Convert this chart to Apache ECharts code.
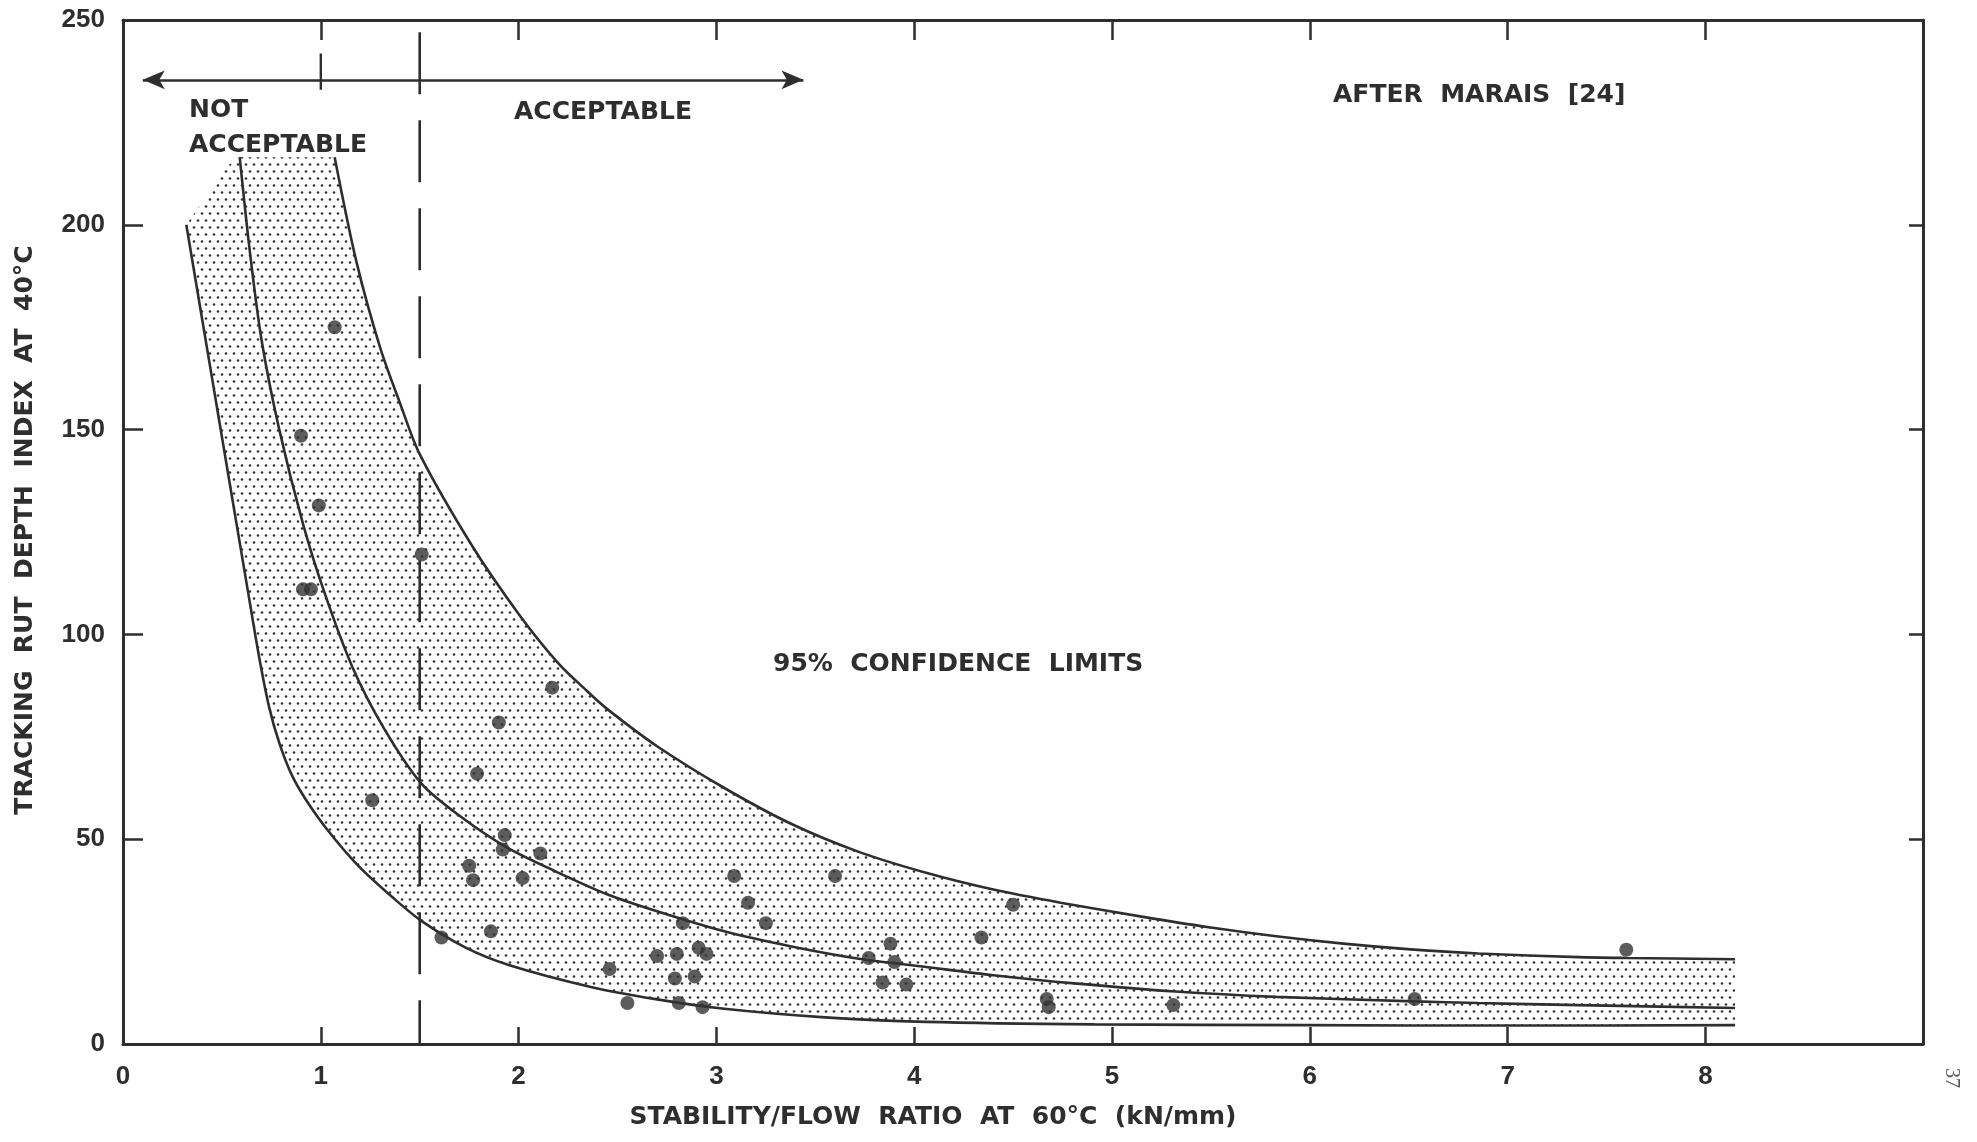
<!DOCTYPE html>
<html>
<head>
<meta charset="utf-8">
<title>Tracking rut depth index vs stability/flow ratio</title>
<script src="https://cdn.jsdelivr.net/npm/echarts@6/dist/echarts.min.js"></script>
<style>
  html, body { margin: 0; padding: 0; background: #ffffff; }
  #chart { width: 1977px; height: 1142px; }
</style>
</head>
<body>
<div id="chart"></div>
<script>
// Axis ticks and labels
const xTickValues = [1, 2, 3, 4, 5, 6, 7, 8];
const xLabelValues = [0, 1, 2, 3, 4, 5, 6, 7, 8];
const yTickValues = [50, 100, 150, 200];
const yLabelValues = [0, 50, 100, 150, 200, 250];

// Regression curve and its 95% confidence limits: [stability/flow, rut depth index]
const upperLimit = [
  [1.07, 216.5], [1.18, 191], [1.30, 170], [1.40, 156.5], [1.50, 144], [1.76, 122],
  [2.00, 105], [2.20, 93], [2.35, 86], [2.45, 81.7], [2.70, 72.7], [3.04, 62.5],
  [3.38, 53.7], [3.72, 46.9], [4.06, 41.8], [4.40, 37.7], [4.74, 34.5], [5.15, 31.1],
  [5.49, 28.5], [5.83, 26.3], [6.17, 24.5], [6.51, 23.1], [6.85, 22.1], [7.36, 21.2],
  [7.60, 21.0], [8.15, 20.7]
];
const meanCurve = [
  [0.59, 216.5], [0.64, 194], [0.70, 172], [0.79, 150], [0.91, 127], [1.02, 110],
  [1.16, 92], [1.32, 77], [1.51, 63.5], [1.71, 55.4], [1.94, 48], [2.18, 42.3],
  [2.45, 36.5], [2.70, 32.4], [3.04, 27.5], [3.38, 23.8], [3.72, 20.8], [4.06, 18.8],
  [4.40, 16.8], [4.81, 14.8], [5.32, 12.8], [5.83, 11.5], [6.53, 10.4], [6.85, 10.0],
  [7.36, 9.5], [8.15, 8.8]
];
const lowerLimit = [
  [0.32, 200], [0.40, 177], [0.48, 154], [0.56, 131], [0.63, 111], [0.69, 94],
  [0.74, 82], [0.79, 73.5], [0.85, 66], [0.92, 60], [1.03, 52.5], [1.19, 43.5],
  [1.37, 35.5], [1.51, 30], [1.73, 23.6], [1.95, 19.3], [2.36, 14], [2.70, 10.9],
  [3.04, 8.6], [3.55, 6.5], [4.06, 5.4], [4.91, 4.8], [6.00, 4.6], [7.00, 4.5],
  [8.15, 4.6]
];
// Closing edge of the shaded band above the steep ends of the curves
const bandTopEdge = [[0.59, 216.5], [0.53, 214.5]];

// Measured mixes
const observations = [
  [1.07, 175], [0.90, 148.5], [0.99, 131.5], [0.91, 111], [0.95, 111], [1.51, 119.5],
  [2.17, 87], [1.90, 78.5], [1.79, 66], [1.26, 59.5], [1.93, 51], [1.92, 47.5],
  [2.11, 46.5], [1.75, 43.5], [1.77, 40], [2.02, 40.5], [1.61, 26], [1.86, 27.5],
  [2.46, 18.3], [3.09, 41], [3.60, 41], [3.16, 34.5], [3.25, 29.5], [4.50, 34],
  [4.34, 26], [2.83, 29.5], [2.70, 21.5], [2.80, 22], [2.91, 23.5], [2.95, 22],
  [2.79, 16], [2.89, 16.5], [2.55, 10], [2.81, 10], [2.93, 9], [3.77, 21],
  [3.88, 24.5], [3.90, 20], [3.84, 15], [3.96, 14.5], [4.67, 11], [4.68, 9],
  [5.31, 9.5], [6.53, 11], [7.60, 23]
];

// Acceptance criterion and region arrow
const criterionX = 1.5;
const criterionLine = [[criterionX, 247], [criterionX, 0]];
const unitOneMark = [[1, 241.8], [1, 233]];
const regionArrow = [[0.10, 235.4], [3.44, 235.4]];

const INK = '#2e2e2e';
const LABEL_FONT = "'Liberation Sans', Arial, sans-serif";
const NOTE_FONT = "'DejaVu Sans', Verdana, sans-serif";

// Stipple used for the confidence band
const tile = document.createElement('canvas');
tile.width = 8;
tile.height = 14;
const tg = tile.getContext('2d');
tg.fillStyle = '#333333';
tg.beginPath(); tg.arc(2, 3.5, 1.3, 0, Math.PI * 2); tg.fill();
tg.beginPath(); tg.arc(6, 10.5, 1.3, 0, Math.PI * 2); tg.fill();
const stipple = { image: tile, repeat: 'repeat' };

function renderBand(params, api) {
  const pts = [];
  lowerLimit.forEach(p => pts.push(api.coord(p)));
  for (let i = upperLimit.length - 1; i >= 0; i--) pts.push(api.coord(upperLimit[i]));
  bandTopEdge.forEach(p => pts.push(api.coord(p)));
  return {
    type: 'polygon',
    shape: { points: pts },
    style: { fill: stipple, stroke: null }
  };
}

const chart = echarts.init(document.getElementById('chart'), null, { renderer: 'canvas' });

const frameLine = { show: true, onZero: false, lineStyle: { color: INK, width: 3 } };
const tickStyle = { color: INK, width: 2.5 };
const curveStyle = { color: INK, width: 2.6 };

function note(text, x, y) {
  return {
    type: 'text',
    x: x,
    y: y,
    silent: true,
    style: {
      text: text,
      fill: INK,
      font: 'bold 25px ' + NOTE_FONT,
      align: 'left',
      verticalAlign: 'middle'
    }
  };
}

function curve(name, data) {
  return {
    type: 'line', name: name, data: data, smooth: 0.3,
    showSymbol: false, lineStyle: curveStyle, z: 3, silent: true
  };
}

const option = {
  backgroundColor: '#ffffff',
  animation: false,
  grid: { left: 123, top: 20, width: 1800, height: 1024, containLabel: false },
  xAxis: [
    {
      type: 'value', min: 0, max: 9.1, interval: 1, position: 'bottom',
      axisLine: frameLine,
      axisTick: { show: true, inside: true, length: 17, customValues: xTickValues, lineStyle: tickStyle },
      axisLabel: {
        customValues: xLabelValues, margin: 20, fontSize: 26, fontWeight: 'bold',
        fontFamily: LABEL_FONT, color: INK
      },
      splitLine: { show: false }
    },
    {
      type: 'value', min: 0, max: 9.1, interval: 1, position: 'top',
      axisLine: frameLine,
      axisTick: { show: true, inside: true, length: 20, customValues: xTickValues, lineStyle: tickStyle },
      axisLabel: { show: false },
      splitLine: { show: false }
    }
  ],
  yAxis: [
    {
      type: 'value', min: 0, max: 250, interval: 50, position: 'left',
      axisLine: frameLine,
      axisTick: { show: true, inside: true, length: 20, customValues: yTickValues, lineStyle: tickStyle },
      axisLabel: {
        customValues: yLabelValues, margin: 18, fontSize: 26, fontWeight: 'bold',
        fontFamily: LABEL_FONT, color: INK
      },
      splitLine: { show: false }
    },
    {
      type: 'value', min: 0, max: 250, interval: 50, position: 'right',
      axisLine: frameLine,
      axisTick: { show: true, inside: true, length: 14, customValues: yTickValues, lineStyle: tickStyle },
      axisLabel: { show: false },
      splitLine: { show: false }
    }
  ],
  series: [
    {
      type: 'custom',
      name: 'band',
      renderItem: renderBand,
      data: [[0, 0]],
      silent: true,
      z: 1
    },
    curve('upper', upperLimit),
    curve('mean', meanCurve),
    curve('lower', lowerLimit),
    {
      type: 'line', name: 'criterion', data: criterionLine, showSymbol: false,
      lineStyle: { color: INK, width: 2.6, type: [62, 26] }, z: 4, silent: true,
      markLine: {
        silent: true,
        symbol: ['arrow', 'arrow'],
        symbolSize: [14, 22],
        label: { show: false },
        lineStyle: { color: INK, width: 2.6, type: 'solid' },
        data: [[{ coord: regionArrow[0] }, { coord: regionArrow[1] }]]
      }
    },
    {
      type: 'line', name: 'unit', data: unitOneMark, showSymbol: false,
      lineStyle: { color: INK, width: 2.4 }, z: 4, silent: true
    },
    {
      type: 'scatter', name: 'observations', data: observations, symbol: 'circle',
      symbolSize: 14, itemStyle: { color: '#333333' }, z: 5, silent: true
    }
  ],
  graphic: [
    note('NOT', 189, 110),
    note('ACCEPTABLE', 189, 145),
    note('ACCEPTABLE', 514, 112),
    note('AFTER  MARAIS  [24]', 1333, 95),
    note('95%  CONFIDENCE  LIMITS', 773, 664),
    {
      type: 'text', x: 933, y: 1117, silent: true,
      style: {
        text: 'STABILITY/FLOW  RATIO  AT  60°C  (kN/mm)',
        fill: INK, font: 'bold 25px ' + NOTE_FONT, align: 'center', verticalAlign: 'middle'
      }
    },
    {
      type: 'text', x: 25, y: 530, rotation: Math.PI / 2, silent: true,
      style: {
        text: 'TRACKING  RUT  DEPTH  INDEX  AT  40°C',
        fill: INK, font: 'bold 25px ' + NOTE_FONT, align: 'center', verticalAlign: 'middle'
      }
    },
    {
      type: 'text', x: 1951, y: 1078, rotation: -Math.PI / 2, silent: true,
      style: {
        text: '37', fill: '#555555', font: '20px "Liberation Serif", serif',
        align: 'center', verticalAlign: 'middle'
      }
    }
  ]
};

chart.setOption(option);
</script>
</body>
</html>
